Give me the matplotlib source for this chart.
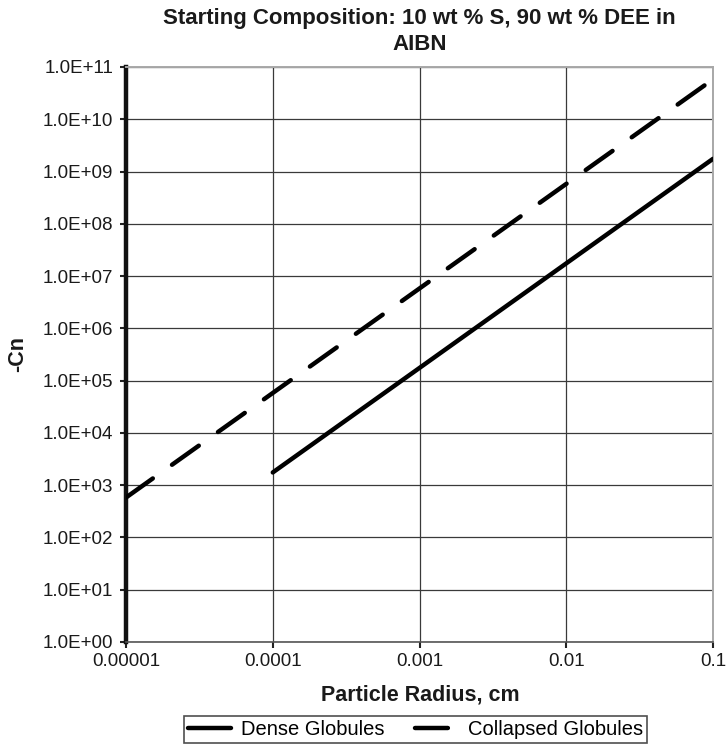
import matplotlib
matplotlib.use("Agg")
import matplotlib.pyplot as plt
from matplotlib.ticker import FuncFormatter, FixedLocator, FixedFormatter, NullLocator

plt.rcParams["font.family"] = ["Liberation Sans", "DejaVu Sans"]

# particle radius (cm) and -Cn values for both globule types
radius_dense = [0.0001, 0.001, 0.01, 0.1]
cn_dense = [1.75e3, 1.75e5, 1.75e7, 1.75e9]

radius_collapsed = [0.00001, 0.0001, 0.001, 0.01, 0.1]
cn_collapsed = [5.8e2, 5.8e4, 5.8e6, 5.8e8, 5.8e10]

x_ticks = [0.00001, 0.0001, 0.001, 0.01, 0.1]
x_tick_labels = ["0.00001", "0.0001", "0.001", "0.01", "0.1"]
y_ticks = [10.0 ** k for k in range(0, 12)]

title_lines = ["Starting Composition: 10 wt % S, 90 wt % DEE in", "AIBN"]

fig = plt.figure(figsize=(7.26, 7.45), dpi=100)
ax = fig.add_axes([0.1736, 0.1383, 0.8085, 0.7718])

ax.plot(radius_dense, cn_dense, color="black", lw=3.2,
        solid_capstyle="round", label="Dense Globules", zorder=3)
ax.plot(radius_collapsed, cn_collapsed, color="black", lw=3.2,
        linestyle=(0, (7.4, 5.3)), dash_capstyle="round",
        label="Collapsed Globules", zorder=3)

ax.set_xscale("log")
ax.set_yscale("log")
ax.set_xlim(0.00001, 0.1)
ax.set_ylim(1, 1e11)

ax.xaxis.set_major_locator(FixedLocator(x_ticks))
ax.xaxis.set_major_formatter(FixedFormatter(x_tick_labels))
ax.xaxis.set_minor_locator(NullLocator())
ax.yaxis.set_major_locator(FixedLocator(y_ticks))
ax.yaxis.set_major_formatter(FuncFormatter(lambda v, p: f"{v:.1E}"))
ax.yaxis.set_minor_locator(NullLocator())

ax.grid(True, which="major", color="#3a3a3a", lw=0.9)
ax.set_axisbelow(True)

ax.tick_params(axis="both", direction="out", length=4.6, width=1.5,
               color="#222222", labelsize=13.5, labelcolor="#1a1a1a")
ax.tick_params(axis="y", pad=4.5)
ax.tick_params(axis="x", pad=3)

ax.spines["left"].set_linewidth(3.2)
ax.spines["left"].set_color("#111111")
ax.spines["bottom"].set_linewidth(1.2)
ax.spines["bottom"].set_color("#555555")
for side in ("top", "right"):
    ax.spines[side].set_linewidth(1.4)
    ax.spines[side].set_color("#a8a8a8")

# two-line title, each line placed on its own baseline
fig.text(0.578, 0.968, title_lines[0], ha="center", va="baseline",
         fontsize=16, fontweight="bold", color="#1a1a1a")
fig.text(0.578, 0.933, title_lines[1], ha="center", va="baseline",
         fontsize=16, fontweight="bold", color="#1a1a1a")

fig.text(0.579, 1 - 700 / 745, "Particle Radius, cm", ha="center",
         va="baseline", fontsize=15.5, fontweight="bold", color="#1a1a1a")
fig.text(0.024, 0.525, "-Cn", ha="center", va="center", rotation=90,
         fontsize=15.5, fontweight="bold", color="#1a1a1a")

leg = fig.legend(loc="center", bbox_to_anchor=(0.5723, 0.0208), ncol=2,
                 fontsize=14.5, frameon=True, fancybox=False,
                 handlelength=2.1, columnspacing=1.55, borderpad=0.2,
                 handletextpad=0.5, borderaxespad=0)
leg.get_frame().set_edgecolor("#222222")
leg.get_frame().set_linewidth(1.2)

fig.savefig("out.png", dpi=100)
